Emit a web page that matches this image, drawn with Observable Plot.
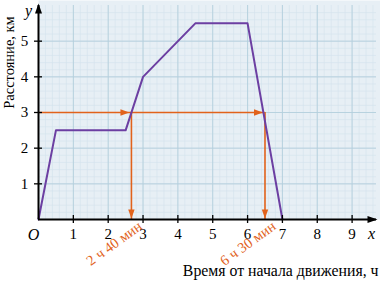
<!DOCTYPE html>
<html>
<head>
<meta charset="utf-8">
<script src="https://cdn.jsdelivr.net/npm/d3@7"></script>
<script src="https://cdn.jsdelivr.net/npm/@observablehq/plot@0.6"></script>
<style>
  html, body { margin: 0; padding: 0; background: white; }
  #chart svg { display: block; }
  #chart svg, #chart svg text { font-family: "Liberation Serif", "DejaVu Serif", serif !important; }
</style>
</head>
<body>
<div id="chart"></div>
<script>
// ---- data ----
const times = [0, 0.5, 2.5, 3, 4.5, 6, 7];          // hours
const distances = [0, 2.5, 2.5, 4, 5.5, 5.5, 0];    // km
const xTicks = [1, 2, 3, 4, 5, 6, 7, 8, 9];
const yTicks = [1, 2, 3, 4, 5];
const level = 3;                                    // km
const marked = [2 + 40 / 60, 6.5];                  // hours
const markLabels = ["2 ч 40 мин", "6 ч 30 мин"];
const xTitle = "Время от начала движения, ч";
const yTitle = "Расстояние, км";

// ---- layout / style ----
const xMax = 9.7, yMax = 6;
const serif = "Liberation Serif";
const purple = "#6c3fa2", orange = "#e1621b";
const bg = "#e7eff5", minorC = "#d4e3ec", majorC = "#b3cfdc";
const xMinor = d3.range(0, xMax, 0.2);
const yMinor = d3.range(0, yMax, 0.2);
const yMajor = [1, 2, 3, 4, 5];

// triangle symbols with tip at origin
function tri(dir, L, W) {
  return {draw(ctx) {
    if (dir === "right") { ctx.moveTo(0, 0); ctx.lineTo(-L, -W); ctx.lineTo(-L, W); }
    else if (dir === "down") { ctx.moveTo(0, 0); ctx.lineTo(-W, -L); ctx.lineTo(W, -L); }
    else { ctx.moveTo(0, 0); ctx.lineTo(-W, L); ctx.lineTo(W, L); }
    ctx.closePath();
  }};
}

const pts = times.map((t, i) => ({t, d: distances[i]}));

const chart = Plot.plot({
  width: 380,
  height: 285,
  marginLeft: 38,
  marginRight: 4,
  marginTop: 5,
  marginBottom: 66,
  x: {domain: [0, xMax], axis: null},
  y: {domain: [0, yMax], axis: null},
  style: {fontFamily: serif, fontSize: "15px", background: "white", overflow: "visible"},
  marks: [
    Plot.frame({fill: bg, stroke: "none", insetTop: -5, insetRight: -4}),
    Plot.ruleX(xMinor, {x: d => d, stroke: minorC, strokeWidth: 0.6}),
    Plot.ruleY(yMinor, {y: d => d, stroke: minorC, strokeWidth: 0.6}),
    Plot.ruleX(xTicks, {x: d => d, stroke: majorC, strokeWidth: 0.9}),
    Plot.ruleY(yMajor, {y: d => d, stroke: majorC, strokeWidth: 0.9}),
    // orange guide lines
    Plot.ruleY([level], {x1: 0, x2: marked[1], stroke: orange, strokeWidth: 1.6}),
    Plot.ruleX(marked, {x: d => d, y1: 0, y2: level, stroke: orange, strokeWidth: 1.6}),
    Plot.dot(marked, {x: d => d, y: level, dx: -2, symbol: tri("right", 9, 3.2), fill: orange, stroke: "none"}),
    Plot.dot(marked, {x: d => d, y: 0, dy: -1, symbol: tri("down", 9, 3.2), fill: orange, stroke: "none"}),
    // graph
    Plot.line(pts, {x: "t", y: "d", stroke: purple, strokeWidth: 2}),
    // axes
    Plot.ruleY([0], {x1: 0, x2: xMax, stroke: "black", strokeWidth: 2}),
    Plot.ruleX([0], {y1: 0, y2: yMax, stroke: "black", strokeWidth: 2}),
    Plot.dot([xMax], {x: d => d, y: 0, dx: 1, symbol: tri("right", 10, 3.5), fill: "black", stroke: "none"}),
    Plot.dot([yMax], {x: 0, y: d => d, dy: -2, symbol: tri("up", 10, 3.5), fill: "black", stroke: "none"}),
    Plot.ruleX(xTicks, {x: d => d, y1: 0, y2: 0, insetTop: -4, insetBottom: -4, stroke: "black", strokeWidth: 1.3}),
    Plot.ruleY(yTicks, {y: d => d, x1: 0, x2: 0, insetLeft: -4, insetRight: -4, stroke: "black", strokeWidth: 1.3}),
    Plot.text(xTicks, {x: d => d, y: 0, dy: 15, text: d => String(d), fill: "black", fontFamily: serif, fontSize: 15}),
    Plot.text(yTicks, {x: 0, y: d => d, dx: -14, text: d => String(d), fill: "black", fontFamily: serif, fontSize: 15}),
    Plot.text(["O"], {x: 0, y: 0, dx: -5, dy: 15, text: d => d, fontStyle: "italic", fill: "black", fontFamily: serif, fontSize: 16}),
    Plot.text(["y"], {x: 0, y: yMax, dx: -10, dy: 5, text: d => d, fontStyle: "italic", fill: "black", fontFamily: serif, fontSize: 16}),
    Plot.text(["x"], {x: xMax, y: 0, dx: -5, dy: 14, text: d => d, fontStyle: "italic", fill: "black", fontFamily: serif, fontSize: 16}),
    // titles
    Plot.text([yTitle], {frameAnchor: "top-left", textAnchor: "middle", dx: -35, dy: 57, rotate: -90, text: d => d, fontSize: 14.5, fill: "black", fontFamily: serif}),
    Plot.text([xTitle], {frameAnchor: "bottom-right", textAnchor: "end", dx: 2, dy: 56, text: d => d, fontSize: 15.8, fill: "black", fontFamily: serif}),
    // orange labels
    Plot.text(marked, {x: d => d, y: 0, text: (d, i) => markLabels[i], rotate: -36, textAnchor: "end", dx: 9, dy: 5, fill: orange, fontSize: 14.5, fontFamily: serif})
  ]
});
document.getElementById("chart").appendChild(chart);
</script>
</body>
</html>
